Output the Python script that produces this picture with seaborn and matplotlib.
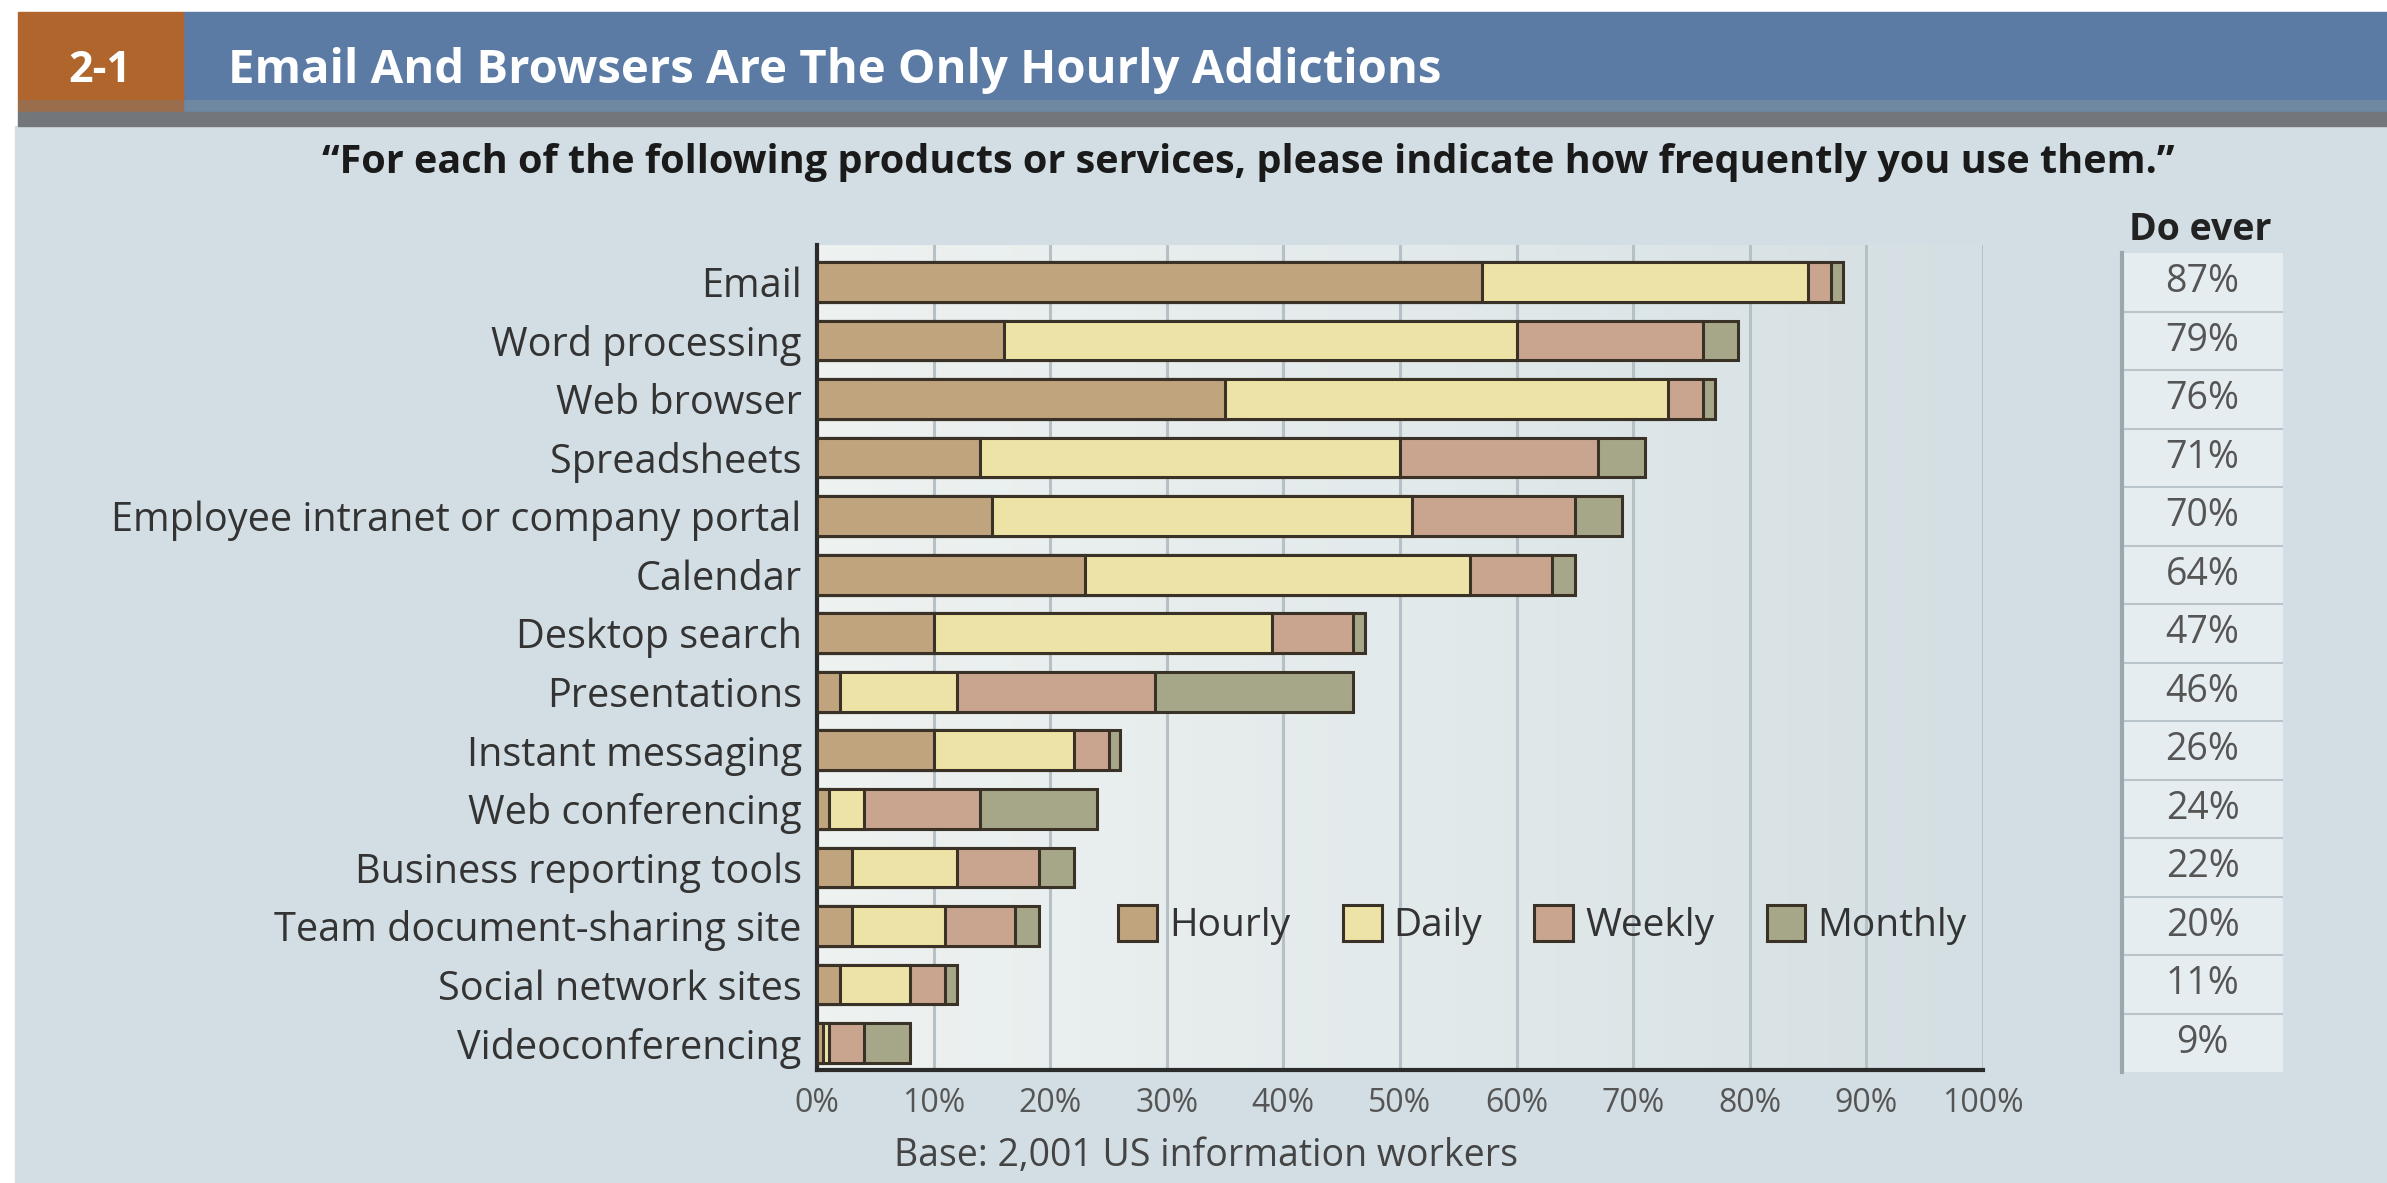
import numpy as np
import pandas as pd
import seaborn as sns
import matplotlib.pyplot as plt
from matplotlib.patches import Patch, Rectangle
from matplotlib.colors import LinearSegmentedColormap

# --- data ---
categories = [
    "Email", "Word processing", "Web browser", "Spreadsheets",
    "Employee intranet or company portal", "Calendar", "Desktop search",
    "Presentations", "Instant messaging", "Web conferencing",
    "Business reporting tools", "Team document-sharing site",
    "Social network sites", "Videoconferencing",
]
hourly = [57, 16, 35, 14, 15, 23, 10, 2, 10, 1, 3, 3, 2, 0.5]
daily = [28, 44, 38, 36, 36, 33, 29, 10, 12, 3, 9, 8, 6, 0.5]
weekly = [2, 16, 3, 17, 14, 7, 7, 17, 3, 10, 7, 6, 3, 3]
monthly = [1, 3, 1, 4, 4, 2, 1, 17, 1, 10, 3, 2, 1, 4]
do_ever = [87, 79, 76, 71, 70, 64, 47, 46, 26, 24, 22, 20, 11, 9]
x_ticks = [0, 10, 20, 30, 40, 50, 60, 70, 80, 90, 100]

series = ["Hourly", "Daily", "Weekly", "Monthly"]
colors = {"Hourly": "#bfa47e", "Daily": "#eee3a6", "Weekly": "#c9a58f", "Monthly": "#a6a789"}
edge = "#3a3226"

W, H = 2387, 1183

sns.set_theme(style="white")
plt.rcParams['font.family'] = ['Open Sans', 'DejaVu Sans']

fig = plt.figure(figsize=(W / 100, H / 100), dpi=100)
fig.patch.set_facecolor("white")

# background panel and header band
fig.add_artist(Rectangle((15 / W, 0), 1, (H - 126) / H, transform=fig.transFigure,
                         color="#d2dee3", zorder=0))
fig.add_artist(Rectangle((183 / W, (H - 100) / H), 1, 88 / H, transform=fig.transFigure,
                         color="#5b7ba5", zorder=0))
fig.add_artist(Rectangle((183 / W, (H - 112) / H), 1, 12 / H, transform=fig.transFigure,
                         color="#6e88a2", zorder=0))
fig.add_artist(Rectangle((18 / W, (H - 100) / H), 165 / W, 88 / H, transform=fig.transFigure,
                         color="#b0652c", zorder=0))
fig.add_artist(Rectangle((18 / W, (H - 112) / H), 165 / W, 12 / H, transform=fig.transFigure,
                         color="#9a6d4c", zorder=0))
fig.add_artist(Rectangle((18 / W, (H - 126) / H), 1, 14 / H, transform=fig.transFigure,
                         color="#73777b", zorder=0))

fig.text(100 / W, (H - 70) / H, "2-1", color="white", fontsize=31, fontweight="bold",
         ha="center", va="center")
fig.text(228 / W, (H - 70) / H, "Email And Browsers Are The Only Hourly Addictions",
         color="white", fontsize=34, fontweight="bold", ha="left", va="center")
fig.text(1248 / W, (H - 162) / H,
         "\u201cFor each of the following products or services, please indicate how frequently you use them.\u201d",
         color="#1a1a1a", fontsize=28.5, fontweight="bold", ha="center", va="center")

# main axes
ax = fig.add_axes([817 / W, (H - 1070) / H, 1166 / W, 825 / H])

df = pd.DataFrame({"category": categories, "Hourly": hourly, "Daily": daily,
                   "Weekly": weekly, "Monthly": monthly})
df["cum_Hourly"] = df["Hourly"]
df["cum_Daily"] = df["cum_Hourly"] + df["Daily"]
df["cum_Weekly"] = df["cum_Daily"] + df["Weekly"]
df["cum_Monthly"] = df["cum_Weekly"] + df["Monthly"]

# stacked look: draw cumulative totals from longest to shortest
for s in reversed(series):
    sns.barplot(data=df, x="cum_" + s, y="category", orient="h", color=colors[s],
                saturation=1, width=0.68, edgecolor=edge, linewidth=2.2,
                errorbar=None, ax=ax, zorder=3)

ylim = (13.46, -0.63)
grad_cmap = LinearSegmentedColormap.from_list("bg", ["#eef2f1", "#e3eaeb", "#d4dfe3"])
grad = np.tile(np.linspace(0, 1, 256), (2, 1))
ax.imshow(grad, extent=[0, 100, ylim[0], ylim[1]], aspect="auto", cmap=grad_cmap, zorder=0)

ax.set_xlim(0, 100)
ax.set_ylim(*ylim)
ax.set_xticks(x_ticks)
ax.set_xticklabels([f"{v}%" for v in x_ticks])
ax.set_xlabel("")
ax.set_ylabel("")
ax.xaxis.grid(True, color="#b5c1c6", linewidth=2.2)
ax.set_axisbelow(True)
for side in ["top", "right"]:
    ax.spines[side].set_visible(False)
for side in ["left", "bottom"]:
    ax.spines[side].set_color("#2b2b2b")
    ax.spines[side].set_linewidth(3)
ax.tick_params(axis="y", length=0, pad=11, labelsize=28.5, labelcolor="#333333")
ax.tick_params(axis="x", length=0, pad=12, labelsize=23, labelcolor="#555555")

handles = [Patch(facecolor=colors[s], edgecolor=edge, linewidth=2.2, label=s) for s in series]
fig.legend(handles=handles, loc="center left", bbox_to_anchor=(1099 / W, (H - 925) / H),
           ncol=4, frameon=False, fontsize=28, borderpad=0, handlelength=1.0,
           handleheight=1.05, handletextpad=0.3, columnspacing=1.35, labelcolor="#333333")

# "Do ever" column
ax2 = fig.add_axes([2122 / W, (H - 1072) / H, 161 / W, 819 / H])
ax2.set_xlim(0, 1)
ax2.set_ylim(13.5, -0.5)
ax2.set_facecolor("#e6edf0")
ax2.hlines([i + 0.5 for i in range(len(categories) - 1)], 0, 1, color="#b9c5ca", linewidth=1.5)
for i, v in enumerate(do_ever):
    ax2.text(0.5, i, f"{v}%", ha="center", va="center", fontsize=27, color="#555555")
ax2.set_xticks([])
ax2.set_yticks([])
for side in ["top", "right", "bottom"]:
    ax2.spines[side].set_visible(False)
ax2.spines["left"].set_color("#9aa7ad")
ax2.spines["left"].set_linewidth(3)

fig.text(2200 / W, (H - 230) / H, "Do ever", fontsize=27, fontweight="bold",
         color="#222222", ha="center", va="center")

fig.text(1206 / W, (H - 1156) / H, "Base: 2,001 US information workers", fontsize=27,
         color="#444444", ha="center", va="center")

fig.savefig("out.png", dpi=100)
